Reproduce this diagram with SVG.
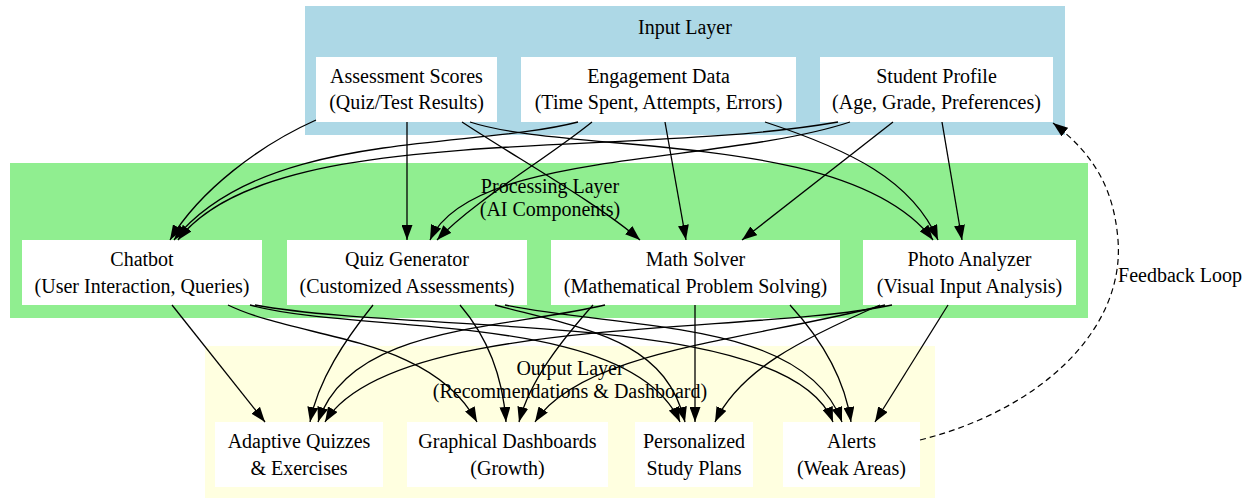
<svg xmlns="http://www.w3.org/2000/svg" width="1251" height="500" viewBox="0 0 1251 500">
<style>
text{font-family:"Liberation Serif","Times New Roman",serif;font-size:20px;fill:#000;text-anchor:middle}
.node{fill:#fff;stroke:none}
.e{fill:none;stroke:#000;stroke-width:1.3;marker-end:url(#ah)}
.fb{fill:none;stroke:#000;stroke-width:1.2;stroke-dasharray:6,4;marker-end:url(#ah)}
</style>
<defs>
<marker id="ah" markerUnits="userSpaceOnUse" markerWidth="16" markerHeight="11" refX="15" refY="5.5" orient="auto">
<path d="M0,0 L15,5.5 L0,11 z" fill="#000"/>
</marker>
</defs>
<rect width="1251" height="500" fill="#fff"/>
<g id="cluster-input">
<rect x="305" y="6" width="760" height="129" fill="#add8e6"/>
<text x="685" y="34">Input Layer</text>
</g>
<g id="cluster-processing">
<rect x="10" y="163" width="1078" height="155" fill="#90ee90"/>
<text x="550" y="193">Processing Layer</text>
<text x="550" y="216">(AI Components)</text>
</g>
<g id="cluster-output">
<rect x="205" y="346" width="730" height="152" fill="#ffffe0"/>
<text x="570" y="375">Output Layer</text>
<text x="570" y="398">(Recommendations &amp; Dashboard)</text>
</g>
<g id="assessment">
<rect class="node" x="316" y="57" width="181" height="65"/>
<text x="406.5" y="83">Assessment Scores</text>
<text x="406.5" y="109">(Quiz/Test Results)</text>
</g>
<g id="engagement">
<rect class="node" x="521" y="57" width="275" height="65"/>
<text x="658.5" y="83">Engagement Data</text>
<text x="658.5" y="109">(Time Spent, Attempts, Errors)</text>
</g>
<g id="profile">
<rect class="node" x="820" y="57" width="233" height="65"/>
<text x="936.5" y="83">Student Profile</text>
<text x="936.5" y="109">(Age, Grade, Preferences)</text>
</g>
<g id="chatbot">
<rect class="node" x="22" y="240" width="240" height="65"/>
<text x="142" y="266">Chatbot</text>
<text x="142" y="293">(User Interaction, Queries)</text>
</g>
<g id="quizgen">
<rect class="node" x="287" y="240" width="240" height="65"/>
<text x="407" y="266">Quiz Generator</text>
<text x="407" y="293">(Customized Assessments)</text>
</g>
<g id="mathsolver">
<rect class="node" x="551" y="240" width="289" height="65"/>
<text x="695.5" y="266">Math Solver</text>
<text x="695.5" y="293">(Mathematical Problem Solving)</text>
</g>
<g id="photo">
<rect class="node" x="863" y="240" width="213" height="65"/>
<text x="969.5" y="266">Photo Analyzer</text>
<text x="969.5" y="293">(Visual Input Analysis)</text>
</g>
<g id="adaptive">
<rect class="node" x="215" y="422" width="168" height="65"/>
<text x="299" y="448">Adaptive Quizzes</text>
<text x="299" y="475">&amp; Exercises</text>
</g>
<g id="dashboards">
<rect class="node" x="407" y="422" width="201" height="65"/>
<text x="507.5" y="448">Graphical Dashboards</text>
<text x="507.5" y="475">(Growth)</text>
</g>
<g id="studyplans">
<rect class="node" x="635" y="422" width="118" height="65"/>
<text x="694" y="448">Personalized</text>
<text x="694" y="475">Study Plans</text>
</g>
<g id="alerts">
<rect class="node" x="783" y="422" width="137" height="65"/>
<text x="851.5" y="448">Alerts</text>
<text x="851.5" y="475">(Weak Areas)</text>
</g>
<g id="connectors">
<path class="e" d="M316,120 C260,145 200,190 170,240"/>
<path class="e" d="M578,122 C470,150 262,130 174,240"/>
<path class="e" d="M838,122 C620,160 270,120 178,240"/>
<path class="e" d="M407,122 L407,240"/>
<path class="e" d="M592,122 C545,160 475,200 437,240"/>
<path class="e" d="M850,122 C720,165 470,150 430,240"/>
<path class="e" d="M462,122 C520,160 600,205 640,240"/>
<path class="e" d="M665,122 L686,240"/>
<path class="e" d="M893,122 L742,240"/>
<path class="e" d="M470,122 C570,155 850,130 933,240"/>
<path class="e" d="M765,122 C850,150 912,180 938,240"/>
<path class="e" d="M942,122 L962,240"/>
<path class="e" d="M172,305 L265,422"/>
<path class="e" d="M228,305 C300,340 430,335 477,422"/>
<path class="e" d="M250,305 C360,335 630,310 680,422"/>
<path class="e" d="M255,305 C420,335 790,310 833,422"/>
<path class="e" d="M373,305 C345,340 318,380 310,422"/>
<path class="e" d="M460,305 C490,340 503,380 506,422"/>
<path class="e" d="M495,305 C590,330 665,340 685,422"/>
<path class="e" d="M505,305 C630,330 805,320 842,422"/>
<path class="e" d="M605,305 C500,330 350,325 318,422"/>
<path class="e" d="M593,305 C562,340 530,380 519,422"/>
<path class="e" d="M695,305 L695,422"/>
<path class="e" d="M790,305 C822,340 845,380 851,422"/>
<path class="e" d="M892,305 C750,335 390,315 325,422"/>
<path class="e" d="M885,305 C750,340 582,350 535,422"/>
<path class="e" d="M880,305 C800,340 740,370 715,422"/>
<path class="e" d="M948,305 L875,422"/>
<path class="fb" d="M920,440 C1040,410 1125,330 1118,240 C1114,190 1095,155 1053,123"/>
</g>
<g id="feedback-label">
<text x="1180" y="282">Feedback Loop</text>
</g>
</svg>
